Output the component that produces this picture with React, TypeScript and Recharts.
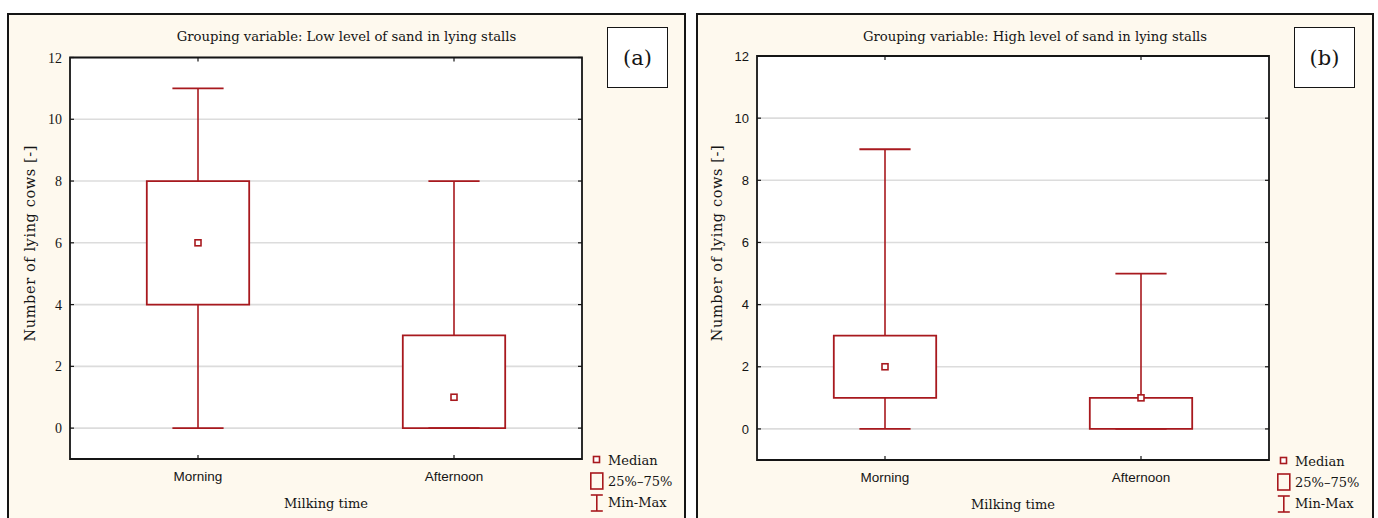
import React from 'react';
import { ComposedChart, XAxis, YAxis, CartesianGrid, ReferenceArea, ReferenceLine, Scatter } from 'recharts';

// ---------- data ----------
const categories = ['Morning', 'Afternoon'];
const categoryPositions = [1, 2];
const yTicks = [0, 2, 4, 6, 8, 10, 12];

const lowMin = [0, 0];
const lowQ1 = [4, 0];
const lowMedian = [6, 1];
const lowQ3 = [8, 3];
const lowMax = [11, 8];

const highMin = [0, 0];
const highQ1 = [1, 0];
const highMedian = [2, 1];
const highQ3 = [3, 1];
const highMax = [9, 5];

const panelTitles = [
  'Grouping variable: Low level of sand in lying stalls',
  'Grouping variable: High level of sand in lying stalls',
];
const panelLetters = ['(a)', '(b)'];
const xAxisTitle = 'Milking time';
const yAxisTitle = 'Number of lying cows [-]';
const legendLabels = ['Median', '25%\u201375%', 'Min-Max'];

// ---------- style ----------
const RED = '#A8191E';
const INK = '#151515';
const CREAM = '#FEF9EE';
const SERIF = '"DejaVu Serif", serif';
const SANS = '"Liberation Sans", Arial, sans-serif';
const NUMSERIF = '"Liberation Serif", serif';
const BOX_HALF = 0.2;
const CAP_HALF = 0.1;
const Y_W = 50;
const X_H = 55;
const TICK_M = 8;
const CHART_H = 518;

type PanelProps = {
  idx: number;
  panelLeft: number;
  panelWidth: number;
  chartLeft: number;
  chartWidth: number;
  plotLeft: number;
  plotRight: number;
  plotTop: number;
  plotBottom: number;
  yTickFont: string;
  yTickSize: number;
  mins: number[];
  q1s: number[];
  medians: number[];
  q3s: number[];
  maxs: number[];
};

function Panel(p: PanelProps) {
  const rows = categories.map((c, i) => ({
    name: c,
    x: categoryPositions[i],
    min: p.mins[i],
    q1: p.q1s[i],
    median: p.medians[i],
    q3: p.q3s[i],
    max: p.maxs[i],
  }));
  const plotW = p.plotRight - p.plotLeft;
  const plotH = p.plotBottom - p.plotTop;

  const YTick = (t: any) => {
    const lx = t.x + TICK_M;
    return (
      <g>
        <text x={t.x} y={t.y} dy="0.36em" textAnchor="end" fontFamily={p.yTickFont} fontSize={p.yTickSize} fill={INK}>
          {t.payload.value}
        </text>
        <line x1={lx} x2={lx + 4} y1={t.y} y2={t.y} stroke={INK} strokeWidth={1.2} />
        <line x1={lx + plotW - 4} x2={lx + plotW} y1={t.y} y2={t.y} stroke={INK} strokeWidth={1.2} />
      </g>
    );
  };

  const XTick = (t: any) => {
    const by = t.y - 12;
    const idx = categoryPositions.indexOf(t.payload.value);
    return (
      <g>
        <text x={t.x} y={t.y} dy="0.72em" textAnchor="middle" fontFamily={SANS} fontSize={13.5} fill={INK}>
          {categories[idx]}
        </text>
        <line x1={t.x} x2={t.x} y1={by} y2={by - 4} stroke={INK} strokeWidth={1.2} />
        <line x1={t.x} x2={t.x} y1={by - plotH} y2={by - plotH + 4} stroke={INK} strokeWidth={1.2} />
      </g>
    );
  };

  const legendX = p.chartLeft + p.plotRight + 8;
  const legendY = p.plotBottom - 8;

  return (
    <>
      <div
        style={{
          position: 'absolute',
          left: p.panelLeft,
          top: 13,
          width: p.panelWidth,
          height: 530,
          boxSizing: 'border-box',
          border: `2px solid ${INK}`,
          background: CREAM,
        }}
      />
      <div
        style={{
          position: 'absolute',
          left: p.panelLeft,
          top: 28,
          width: p.panelWidth,
          textAlign: 'center',
          fontFamily: SERIF,
          fontSize: 13.2,
          color: INK,
          lineHeight: '18px',
        }}
      >
        {panelTitles[p.idx]}
      </div>
      <div
        style={{
          position: 'absolute',
          left: p.chartLeft + p.plotRight + 25,
          top: 27,
          width: 61,
          height: 61,
          boxSizing: 'border-box',
          border: `1px solid ${INK}`,
          background: '#fff',
          display: 'flex',
          alignItems: 'center',
          justifyContent: 'center',
          fontFamily: SERIF,
          fontSize: 21,
          color: INK,
        }}
      >
        {panelLetters[p.idx]}
      </div>
      <div style={{ position: 'absolute', left: p.chartLeft, top: 0, width: p.chartWidth, height: CHART_H }}>
        <ComposedChart
          width={p.chartWidth}
          height={CHART_H}
          data={rows}
          margin={{
            top: p.plotTop,
            bottom: CHART_H - p.plotBottom - X_H,
            left: p.plotLeft - Y_W,
            right: p.chartWidth - p.plotRight,
          }}
        >
          <CartesianGrid horizontal vertical={false} fill="#fff" stroke="#dcdcdc" strokeWidth={1.6} />
          <XAxis
            dataKey="x"
            type="number"
            domain={[0.5, 2.5]}
            ticks={categoryPositions}
            allowDataOverflow
            height={X_H}
            tickSize={0}
            tickMargin={12}
            axisLine={false}
            tickLine={false}
            tick={XTick}
            interval={0}
            label={{
              content: (l: any) => {
                const vb = l.viewBox;
                return (
                  <text x={vb.x + vb.width / 2} y={p.plotBottom + 49} textAnchor="middle" fontFamily={SERIF} fontSize={13} fill={INK}>
                    {xAxisTitle}
                  </text>
                );
              },
            }}
          />
          <YAxis
            type="number"
            domain={[-1, 12]}
            ticks={yTicks}
            allowDataOverflow
            width={Y_W}
            tickSize={0}
            tickMargin={TICK_M}
            axisLine={false}
            tickLine={false}
            tick={YTick}
            interval={0}
            label={{
              content: (l: any) => {
                const vb = l.viewBox;
                const cx = vb.x + vb.width - 40;
                const cy = vb.y + vb.height / 2 - 15;
                return (
                  <text
                    x={cx}
                    y={cy}
                    transform={`rotate(-90 ${cx} ${cy})`}
                    textAnchor="middle"
                    dy="0.35em"
                    fontFamily={SERIF}
                    fontSize={14.5}
                    letterSpacing={0.6}
                    fill={INK}
                  >
                    {yAxisTitle}
                  </text>
                );
              },
            }}
          />
          {rows.map((r) => (
            <ReferenceArea
              key={`box-${r.name}`}
              x1={r.x - BOX_HALF}
              x2={r.x + BOX_HALF}
              y1={r.q1}
              y2={r.q3}
              fill="#fff"
              fillOpacity={1}
              stroke={RED}
              strokeWidth={1.8}
              ifOverflow="visible"
            />
          ))}
          {rows.map((r) => (
            <ReferenceLine
              key={`wl-${r.name}`}
              segment={[{ x: r.x, y: r.min }, { x: r.x, y: r.q1 }]}
              stroke={RED}
              strokeWidth={1.6}
              ifOverflow="visible"
            />
          ))}
          {rows.map((r) => (
            <ReferenceLine
              key={`wh-${r.name}`}
              segment={[{ x: r.x, y: r.q3 }, { x: r.x, y: r.max }]}
              stroke={RED}
              strokeWidth={1.6}
              ifOverflow="visible"
            />
          ))}
          {rows.map((r) => (
            <ReferenceLine
              key={`cmin-${r.name}`}
              segment={[{ x: r.x - CAP_HALF, y: r.min }, { x: r.x + CAP_HALF, y: r.min }]}
              stroke={RED}
              strokeWidth={1.8}
              ifOverflow="visible"
            />
          ))}
          {rows.map((r) => (
            <ReferenceLine
              key={`cmax-${r.name}`}
              segment={[{ x: r.x - CAP_HALF, y: r.max }, { x: r.x + CAP_HALF, y: r.max }]}
              stroke={RED}
              strokeWidth={1.8}
              ifOverflow="visible"
            />
          ))}
          <ReferenceArea x1={0.5} x2={2.5} y1={-1} y2={12} fill="none" stroke={INK} strokeWidth={1.8} ifOverflow="visible" />
          <Scatter
            dataKey="median"
            isAnimationActive={false}
            shape={(s: any) => (
              <rect x={s.cx - 3} y={s.cy - 3} width={6} height={6} fill="#fff" stroke={RED} strokeWidth={1.6} />
            )}
          />
        </ComposedChart>
      </div>
      <svg
        style={{ position: 'absolute', left: legendX, top: legendY, overflow: 'visible' }}
        width={90}
        height={70}
      >
        <rect x={3.5} y={5.5} width={6} height={6} fill="#fff" stroke={RED} strokeWidth={1.6} />
        <text x={18} y={14} fontFamily={SERIF} fontSize={13} fill={INK}>{legendLabels[0]}</text>
        <rect x={0.8} y={22} width={12} height={16} fill="none" stroke={RED} strokeWidth={1.6} />
        <text x={18} y={35} fontFamily={SERIF} fontSize={13} fill={INK}>{legendLabels[1]}</text>
        <line x1={6.8} x2={6.8} y1={44} y2={60} stroke={RED} strokeWidth={1.6} />
        <line x1={0.8} x2={12.8} y1={44} y2={44} stroke={RED} strokeWidth={1.6} />
        <line x1={0.8} x2={12.8} y1={60} y2={60} stroke={RED} strokeWidth={1.6} />
        <text x={18} y={56} fontFamily={SERIF} fontSize={13} fill={INK}>{legendLabels[2]}</text>
      </svg>
    </>
  );
}

export default function App() {
  return (
    <div style={{ position: 'absolute', left: 0, top: 0, width: 1378, height: 518, overflow: 'hidden', background: '#fff' }}>
      <Panel
        idx={0}
        panelLeft={7}
        panelWidth={679}
        chartLeft={0}
        chartWidth={690}
        plotLeft={70}
        plotRight={582}
        plotTop={57.5}
        plotBottom={459}
        yTickFont={NUMSERIF}
        yTickSize={14}
        mins={lowMin}
        q1s={lowQ1}
        medians={lowMedian}
        q3s={lowQ3}
        maxs={lowMax}
      />
      <Panel
        idx={1}
        panelLeft={696}
        panelWidth={678}
        chartLeft={690}
        chartWidth={688}
        plotLeft={67}
        plotRight={579}
        plotTop={56}
        plotBottom={460}
        yTickFont={SANS}
        yTickSize={13}
        mins={highMin}
        q1s={highQ1}
        medians={highMedian}
        q3s={highQ3}
        maxs={highMax}
      />
    </div>
  );
}
